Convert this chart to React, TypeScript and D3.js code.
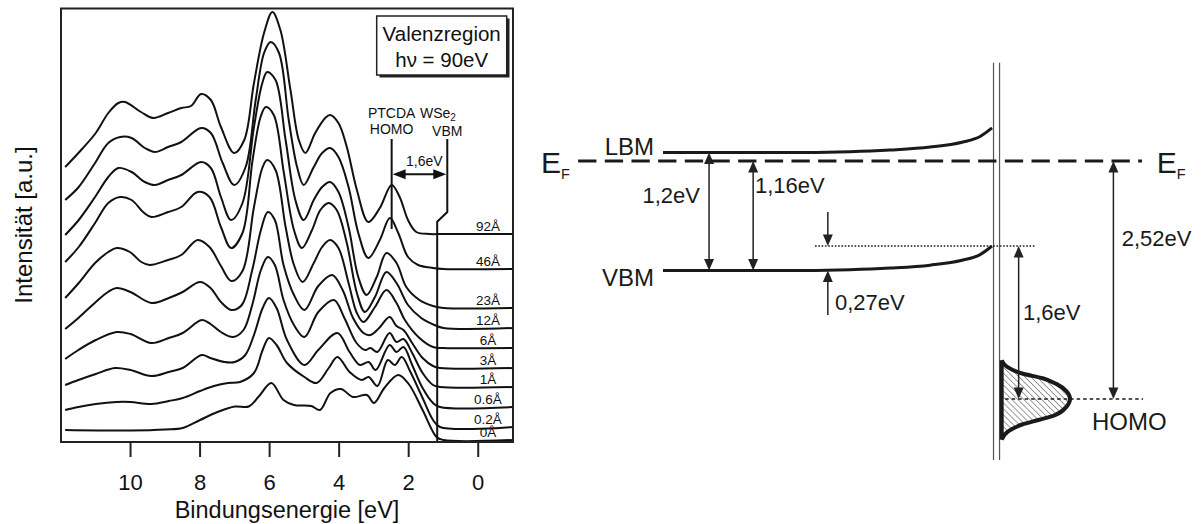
import React from 'react';
import * as d3 from 'd3';

type Pt = [number, number];

const FONT = "'Liberation Sans', Arial, Helvetica, sans-serif";

// binding energy ticks of the left panel
const energyTicks = [10, 8, 6, 4, 2, 0];

// PTCDA thickness of each spectrum, from top to bottom
const thicknessLabels = ['92Å', '46Å', '23Å', '12Å', '6Å', '3Å', '1Å', '0.6Å', '0.2Å', '0Å'];

// spectra: [binding energy eV, intensity a.u. (stacked, as plotted)]
const spectrum92: Pt[] = [[11.88, 276], [11.5, 290], [11.0, 310], [10.64, 330], [10.35, 340], [10.16, 341], [9.7, 331], [9.35, 325], [8.92, 330], [8.54, 335], [8.26, 337], [7.97, 349], [7.69, 343], [7.4, 316], [7.02, 290], [6.73, 303], [6.45, 360], [6.16, 410], [5.92, 431], [5.69, 413], [5.4, 353], [5.16, 303], [4.97, 290], [4.69, 310], [4.4, 325], [4.26, 328], [4.02, 320], [3.78, 296], [3.49, 253], [3.16, 221], [2.83, 235], [2.49, 258], [2.26, 246], [2.02, 223], [1.78, 211], [1.4, 209], [1.0, 209], [-1, 209]];
const spectrum46: Pt[] = [[11.88, 243], [11.49, 256], [11.02, 280], [10.64, 300], [10.3, 306], [9.97, 305], [9.59, 295], [9.3, 291], [8.92, 296], [8.54, 301], [7.97, 315], [7.69, 310], [7.35, 280], [7.02, 258], [6.69, 276], [6.4, 343], [6.16, 390], [5.97, 401], [5.73, 390], [5.45, 323], [5.21, 276], [5.02, 258], [4.73, 276], [4.49, 290], [4.26, 295], [4.02, 286], [3.73, 256], [3.45, 210], [3.16, 185], [2.83, 203], [2.54, 225], [2.3, 210], [2.02, 186], [1.73, 178], [1.3, 175], [1.0, 174], [-1, 174]];
const spectrum23: Pt[] = [[11.88, 208], [11.49, 223], [11.02, 246], [10.64, 266], [10.35, 275], [9.97, 271], [9.59, 261], [9.3, 258], [8.92, 263], [8.54, 268], [7.97, 281], [7.69, 275], [7.4, 246], [7.11, 223], [6.78, 240], [6.45, 316], [6.21, 360], [6.07, 371], [5.83, 363], [5.54, 303], [5.26, 243], [5.02, 223], [4.73, 243], [4.49, 256], [4.26, 261], [4.02, 251], [3.73, 216], [3.45, 166], [3.21, 148], [2.92, 166], [2.64, 190], [2.35, 180], [2.07, 156], [1.69, 143], [1.3, 137], [1.0, 135], [-1, 135]];
const spectrum12: Pt[] = [[11.88, 181], [11.49, 196], [11.02, 220], [10.64, 240], [10.3, 246], [9.97, 243], [9.64, 231], [9.4, 226], [8.92, 231], [8.54, 236], [8.07, 251], [7.73, 246], [7.4, 216], [7.11, 195], [6.78, 210], [6.49, 283], [6.26, 326], [6.11, 336], [5.88, 328], [5.59, 270], [5.3, 213], [5.07, 195], [4.78, 213], [4.54, 233], [4.3, 240], [4.07, 233], [3.78, 200], [3.49, 150], [3.26, 131], [2.97, 146], [2.64, 171], [2.35, 160], [2.02, 138], [1.64, 125], [1.26, 118], [1.0, 115], [-1, 115]];
const spectrum6: Pt[] = [[11.88, 145], [11.49, 160], [11.02, 180], [10.64, 191], [10.4, 195], [10.02, 191], [9.69, 181], [9.45, 178], [8.92, 183], [8.54, 188], [8.07, 203], [7.73, 196], [7.4, 177], [7.1, 162], [6.78, 172], [6.45, 236], [6.21, 275], [6.07, 283], [5.83, 273], [5.54, 216], [5.3, 178], [5.05, 161], [4.73, 180], [4.49, 196], [4.26, 203], [4.02, 195], [3.73, 160], [3.49, 130], [3.3, 121], [2.97, 136], [2.64, 153], [2.35, 140], [2.11, 123], [1.69, 105], [1.3, 96], [1.0, 95], [-1, 95]];
const spectrum3: Pt[] = [[11.88, 114], [11.5, 125], [11.0, 141], [10.65, 151], [10.4, 155], [10.0, 151], [9.4, 140], [8.9, 145], [8.5, 151], [8.0, 161], [7.7, 155], [7.4, 141], [7.1, 133], [6.8, 138], [6.5, 173], [6.25, 213], [6.05, 231], [5.85, 223], [5.6, 178], [5.3, 148], [5.0, 133], [4.6, 157], [4.2, 168], [3.9, 153], [3.6, 125], [3.3, 110], [3.1, 108], [2.85, 115], [2.55, 126], [2.35, 117], [2.15, 113], [1.9, 100], [1.6, 85], [1.3, 77], [1.1, 75], [-1, 75]];
const spectrum1: Pt[] = [[11.88, 84], [11.5, 93], [11.0, 103], [10.4, 111], [10.0, 109], [9.4, 100], [8.9, 105], [8.5, 110], [7.95, 123], [7.7, 119], [7.4, 111], [7.05, 106], [6.75, 113], [6.5, 138], [6.25, 173], [6.05, 186], [5.85, 178], [5.6, 143], [5.3, 118], [5.0, 106], [4.6, 131], [4.15, 143], [3.85, 125], [3.5, 100], [3.25, 93], [3.1, 95], [2.9, 91], [2.55, 110], [2.35, 101], [2.15, 104], [1.9, 90], [1.6, 70], [1.3, 58], [1.1, 56], [-1, 56]];
const spectrum06: Pt[] = [[11.88, 58], [11.5, 63], [11.0, 69], [10.45, 75], [10.0, 73], [9.4, 67], [8.9, 71], [8.5, 75], [7.95, 88], [7.7, 85], [7.3, 81], [7.0, 81], [6.7, 88], [6.45, 108], [6.2, 135], [6.02, 145], [5.8, 135], [5.5, 103], [5.0, 78], [4.6, 93], [4.05, 110], [3.7, 91], [3.4, 78], [3.15, 81], [2.95, 73], [2.55, 98], [2.35, 91], [2.15, 96], [1.9, 78], [1.6, 55], [1.3, 40], [1.1, 36], [-1, 36]];
const spectrum02: Pt[] = [[11.88, 33], [11.5, 36], [11.0, 39], [10.4, 41], [10.0, 41], [9.4, 39], [8.9, 42], [8.5, 45], [8.0, 52], [7.6, 57], [7.2, 60], [6.85, 61], [6.45, 70], [6.2, 93], [6.02, 105], [5.8, 98], [5.5, 80], [5.0, 66], [4.65, 60], [4.3, 75], [4.05, 86], [3.7, 71], [3.35, 63], [3.15, 66], [2.9, 57], [2.6, 83], [2.4, 78], [2.2, 86], [1.95, 71], [1.6, 45], [1.3, 23], [1.1, 16], [-1, 16]];
const spectrum0: Pt[] = [[11.88, 13], [10, 12.5], [9, 13.5], [8.5, 15], [8.0, 23], [7.5, 31], [7.0, 36.5], [6.6, 36.5], [6.3, 47], [5.95, 60], [5.6, 43], [5.3, 38], [4.8, 37], [4.55, 33], [4.25, 50], [3.95, 54], [3.6, 46], [3.2, 48], [3.0, 40], [2.7, 55], [2.3, 68], [2.0, 59], [1.6, 33], [1.2, 6], [1.0, 3], [-1, 3]];

const spectra = [spectrum92, spectrum46, spectrum23, spectrum12, spectrum6, spectrum3, spectrum1, spectrum06, spectrum02, spectrum0];

// markers of the left panel (eV)
const homoEnergy = 2.49;
const vbmEnergy = 1.18;
const vbmLabelEnergy = 0.89;

// band diagram (energies relative to E_F, eV)
const levelEF = 0;
const levelLBM = 0.09;
const levelVBM = -1.16;
const bandBending = 0.26;
const levelHOMO = -2.52;
// shape of the band bending: position (0 = bulk side, 100 = interface) and fraction of bending
const bendPos = [0, 43.2, 56.8, 69, 81.2, 90.9, 96.4, 100];
const bendFrac = [0, 0, 0.03, 0.1, 0.22, 0.42, 0.65, 1];
// PTCDA HOMO density of states: energy offset from HOMO (eV) and relative density
const homoOffset = [0.41, 0.34, 0.27, 0.22, 0.16, 0.08, 0, -0.08, -0.17, -0.22, -0.27, -0.34, -0.43];
const homoDensity = [0, 0.08, 0.3, 0.6, 0.8, 0.95, 1, 0.95, 0.78, 0.55, 0.3, 0.1, 0];

const VArrow = ({ x, y1, y2, head1, head2, color = '#222' }:
  { x: number; y1: number; y2: number; head1: boolean; head2: boolean; color?: string }) => {
  const dir = y2 > y1 ? 1 : -1;
  const L = 11.5, W = 5;
  return (
    <g>
      <line x1={x} x2={x} y1={head1 ? y1 + dir * 6 : y1} y2={head2 ? y2 - dir * 6 : y2} stroke={color} strokeWidth={1.5} />
      {head1 && <polygon points={`${x},${y1} ${x - W},${y1 + dir * L} ${x + W},${y1 + dir * L}`} fill={color} />}
      {head2 && <polygon points={`${x},${y2} ${x - W},${y2 - dir * L} ${x + W},${y2 - dir * L}`} fill={color} />}
    </g>
  );
};

const SpectraPanel = () => {
  const x = d3.scaleLinear().domain([12, -1]).range([61, 513]);
  const y = d3.scaleLinear().domain([0, 435]).range([443, 8]);
  const line = d3.line<Pt>().x(d => x(d[0])).y(d => y(d[1])).curve(d3.curveCatmullRom.alpha(0.5));
  const straight = d3.line<Pt>().x(d => x(d[0])).y(d => y(d[1]));
  const arrowY = y(268.7);
  const ax1 = x(homoEnergy), ax2 = x(vbmLabelEnergy);

  return (
    <g fontFamily={FONT}>
      {spectra.map((s, i) => (
        <path key={i} d={line(s) || ''} fill="none" stroke="#111" strokeWidth={2} strokeLinejoin="round" />
      ))}
      {spectra.map((s, i) => {
        const last = s[s.length - 1];
        return (
          <text key={`l${i}`} x={x(-0.28)} y={y(last[1] + 3)} fontSize={13.5} textAnchor="middle" fill="#111">
            {thicknessLabels[i]}
          </text>
        );
      })}
      {/* PTCDA HOMO and WSe2 VBM markers */}
      <path d={straight([[homoEnergy, 304], [homoEnergy, 214]]) || ''} stroke="#111" strokeWidth={2} fill="none" />
      <path d={straight([[vbmLabelEnergy, 304], [vbmLabelEnergy, 231], [vbmEnergy, 221.3], [vbmEnergy, 1.3]]) || ''} stroke="#111" strokeWidth={2} fill="none" />
      <line x1={ax1 + 10} x2={ax2 - 10} y1={arrowY} y2={arrowY} stroke="#111" strokeWidth={2} />
      <polygon points={`${ax1 + 1},${arrowY} ${ax1 + 14},${arrowY - 5} ${ax1 + 14},${arrowY + 5}`} fill="#111" />
      <polygon points={`${ax2 - 1},${arrowY} ${ax2 - 14},${arrowY - 5} ${ax2 - 14},${arrowY + 5}`} fill="#111" />
      <text x={x(1.55)} y={y(277)} fontSize={14} textAnchor="middle" fill="#111">1,6eV</text>
      <text x={x(homoEnergy)} y={y(324.7)} fontSize={14} textAnchor="middle" fill="#111">PTCDA</text>
      <text x={x(homoEnergy)} y={y(309)} fontSize={14} textAnchor="middle" fill="#111">HOMO</text>
      <text x={x(1.16)} y={y(324.7)} fontSize={14} textAnchor="middle" fill="#111">
        WSe<tspan fontSize={10} dy={3}>2</tspan>
      </text>
      <text x={x(vbmLabelEnergy)} y={y(307)} fontSize={14} textAnchor="middle" fill="#111">VBM</text>

      {/* frame */}
      <rect x={61} y={8.5} width={452} height={433.5} fill="none" stroke="#222" strokeWidth={2} />
      {energyTicks.map(t => (
        <g key={t}>
          <line x1={x(t)} x2={x(t)} y1={442} y2={457} stroke="#222" strokeWidth={2} />
          <text x={x(t)} y={490} fontSize={22} textAnchor="middle" fill="#111">{t}</text>
        </g>
      ))}
      <text x={287} y={518} fontSize={23.5} textAnchor="middle" fill="#111">Bindungsenergie [eV]</text>
      <text transform="translate(32,225) rotate(-90)" fontSize={24} textAnchor="middle" fill="#111">Intensität [a.u.]</text>

      {/* legend box */}
      <rect x={379.5} y={18.5} width={130} height={59} fill="#222" />
      <rect x={376.7} y={16} width={130} height={59} fill="#fff" stroke="#222" strokeWidth={1.5} />
      <text x={441.7} y={41} fontSize={20.5} textAnchor="middle" fill="#111">Valenzregion</text>
      <text x={441.7} y={66.5} fontSize={20.5} textAnchor="middle" fill="#111">hν = 90eV</text>
    </g>
  );
};

const BandDiagram = () => {
  const yE = d3.scaleLinear().domain([0, -2.52]).range([161, 399]);
  const xPos = d3.scaleLinear().domain([0, 100]).range([663, 992]);
  const dosX = d3.scaleLinear().domain([0, 1]).range([1001.7, 1070]);
  const band = (level: number) => d3.line<number>()
    .x(p => xPos(p))
    .y((p, i) => yE(level + bandBending * bendFrac[i]))
    .curve(d3.curveMonotoneX)(bendPos) || '';
  const dosPath = d3.line<number>()
    .x((o, i) => dosX(homoDensity[i]))
    .y(o => yE(levelHOMO + o))
    .curve(d3.curveMonotoneY)(homoOffset) || '';
  const ink = '#1a1a1a';
  const ifVBM = levelVBM + bandBending;

  return (
    <g fontFamily={FONT} fill={ink}>
      <defs>
        <pattern id="hatch" width={4.2} height={4.2} patternUnits="userSpaceOnUse" patternTransform="rotate(-45)">
          <line x1={0} y1={0} x2={0} y2={4.2} stroke="#222" strokeWidth={0.9} />
        </pattern>
      </defs>

      {/* interface */}
      <line x1={xPos(100.46)} x2={xPos(100.46)} y1={yE(1.04)} y2={yE(-3.166)} stroke="#555" strokeWidth={1.2} />
      <line x1={xPos(102.3)} x2={xPos(102.3)} y1={yE(1.04)} y2={yE(-3.166)} stroke="#555" strokeWidth={1.2} />

      {/* Fermi level */}
      <line x1={xPos(-25.8)} x2={xPos(145.6)} y1={yE(levelEF)} y2={yE(levelEF)} stroke={ink} strokeWidth={3} strokeDasharray="18.3 8.37" />
      <text x={541} y={173} fontSize={30}>E<tspan fontSize={14.5} dy={6}>F</tspan></text>
      <text x={1156.7} y={173.3} fontSize={30}>E<tspan fontSize={14.5} dy={6}>F</tspan></text>

      {/* bands */}
      <path d={band(levelLBM)} fill="none" stroke={ink} strokeWidth={3} />
      <path d={band(levelVBM)} fill="none" stroke={ink} strokeWidth={3} />
      <text x={654} y={155} fontSize={24} textAnchor="end">LBM</text>
      <text x={654} y={285.5} fontSize={24} textAnchor="end">VBM</text>

      <line x1={xPos(46.2)} x2={xPos(113.1)} y1={yE(ifVBM)} y2={yE(ifVBM)} stroke={ink} strokeWidth={1.6} strokeDasharray="1.6 1.7" />

      {/* HOMO density of states */}
      <path d={dosPath} fill="url(#hatch)" stroke={ink} strokeWidth={4} strokeLinejoin="round" />
      <line x1={dosX(0)} x2={dosX(0)} y1={yE(levelHOMO + homoOffset[0])} y2={yE(levelHOMO + homoOffset[homoOffset.length - 1])} stroke={ink} strokeWidth={4} />
      <line x1={xPos(104)} x2={xPos(145.9)} y1={yE(levelHOMO)} y2={yE(levelHOMO)} stroke={ink} strokeWidth={1.6} strokeDasharray="3.5 3" />
      <text x={1092} y={430.3} fontSize={24}>HOMO</text>

      {/* energy differences */}
      <VArrow x={xPos(14)} y1={yE(levelLBM)} y2={yE(levelVBM)} head1 head2 />
      <text x={700} y={203} fontSize={22} textAnchor="end">1,2eV</text>
      <VArrow x={xPos(27.4)} y1={yE(levelEF)} y2={yE(levelVBM)} head1 head2 />
      <text x={755} y={193} fontSize={22}>1,16eV</text>
      <VArrow x={xPos(50.1)} y1={yE(ifVBM + 0.36)} y2={yE(ifVBM)} head1={false} head2 />
      <VArrow x={xPos(50.1)} y1={yE(levelVBM - 0.47)} y2={yE(levelVBM)} head1={false} head2 />
      <text x={835} y={309.7} fontSize={22}>0,27eV</text>
      <VArrow x={xPos(108.1)} y1={yE(ifVBM)} y2={yE(levelHOMO)} head1 head2 />
      <text x={1023} y={319.7} fontSize={22}>1,6eV</text>
      <VArrow x={xPos(136.9)} y1={yE(levelEF)} y2={yE(levelHOMO)} head1 head2 />
      <text x={1121.7} y={246.3} fontSize={22}>2,52eV</text>
    </g>
  );
};

export default function App() {
  return (
    <svg width={1202} height={524} style={{ position: 'fixed', left: 0, top: 0, background: '#fff' }}>
      <rect width={1202} height={524} fill="#fff" />
      <SpectraPanel />
      <BandDiagram />
    </svg>
  );
}
